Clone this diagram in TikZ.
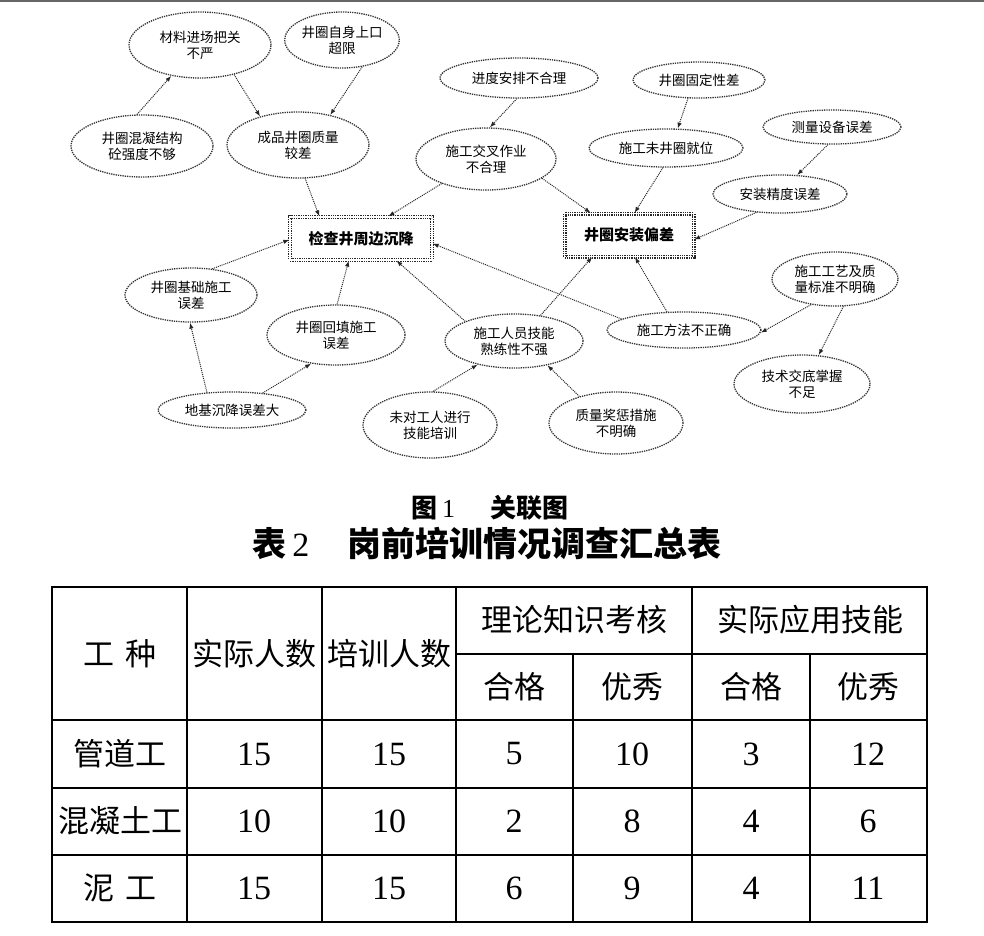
\documentclass[tikz,border=0pt]{standalone}
\usepackage{fontspec}
\setmainfont{Liberation Serif}
\newfontfamily\cjk{Noto Sans CJK SC}
\usetikzlibrary{shapes.geometric,arrows.meta}

\tikzset{
  cause/.style 2 args={ellipse, draw=black!80, densely dotted, line width=1.3pt,
    minimum width=#1pt, minimum height=#2pt, inner sep=0pt, align=center,
    text=black, font=\cjk\fontsize{13.5}{16}\selectfont},
  effect/.style 2 args={rectangle, draw=black!85, densely dotted, line width=1.3pt,
    double, double distance=1.4pt, minimum width=#1pt, minimum height=#2pt,
    inner sep=0pt, font=\cjk\bfseries\fontsize{15}{18}\selectfont},
  link/.style={densely dotted, line width=1pt, draw=black!85,
    -{Latex[length=6pt,width=4.5pt]}},
  head/.style={font=\cjk\fontsize{31}{34}\selectfont},
  num/.style={font=\fontsize{34}{36}\selectfont},
}

\begin{document}
\begin{tikzpicture}[x=1pt, y=-1pt]
    \useasboundingbox (0,0) rectangle (984,935);
    % scan edge
    \draw[black!60, line width=2.5pt] (0,1) -- (984,1);

    % causes, top row
    \node[cause={142}{66}] (mat)   at (200,45)  {材料进场把关\\不严};
    \node[cause={94}{56}]  (top)   at (342,40)  {井圈自身上口\\超限};
    \node[cause={142}{62}] (conc)  at (142,146) {井圈混凝结构\\砼强度不够};
    \node[cause={142}{66}] (prod)  at (298,145) {成品井圈质量\\较差};
    \node[cause={158}{40}] (sched) at (519,78)  {进度安排不合理};
    \node[cause={140}{62}] (cross) at (486,159) {施工交叉作业\\不合理};
    \node[cause={132}{36}] (fix)   at (699,80)  {井圈固定性差};
    \node[cause={154}{38}] (pos)   at (666,148) {施工未井圈就位};
    \node[cause={138}{34}] (meas)  at (832,127) {测量设备误差};
    \node[cause={134}{38}] (inst)  at (780,194) {安装精度误差};

    % the two problems
    \node[effect={142}{43}] (settle) at (361,238.5) {检查井周边沉降};
    \node[effect={129}{43}] (offset) at (629,235)   {井圈安装偏差};

    % causes, bottom row
    \node[cause={132}{54}] (base)   at (191,295) {井圈基础施工\\误差};
    \node[cause={138}{60}] (fill)   at (336,335) {井圈回填施工\\误差};
    \node[cause={148}{36}] (ground) at (232,410) {地基沉降误差大};
    \node[cause={138}{54}] (skill)  at (514,341) {施工人员技能\\熟练性不强};
    \node[cause={134}{66}] (train)  at (430,425) {未对工人进行\\技能培训};
    \node[cause={134}{62}] (reward) at (616,423) {质量奖惩措施\\不明确};
    \node[cause={154}{36}] (method) at (684,330) {施工方法不正确};
    \node[cause={126}{54}] (std)    at (835,279) {施工工艺及质\\量标准不明确};
    \node[cause={136}{58}] (brief)  at (802,384) {技术交底掌握\\不足};

    % links
    \draw[link] (conc.99) -- (mat.227);
    \draw[link] (mat.319) -- (prod.143);
    \draw[link] (top.307) -- (prod.43);
    \draw[link] (prod.282) -- (settle.152);
    \draw[link] (sched.264) -- (cross.83);
    \draw[link] (cross.209) -- (settle.39);
    \draw[link] (cross.341) -- (offset.150);
    \draw[link] (fix.239) -- (pos.59);
    \draw[link] (pos.261) -- (offset.76);
    \draw[link] (meas.257) -- (inst.48);
    \draw[link] (inst.218) -- (offset.356);
    \draw[link] (base.51) -- (settle.181);
    \draw[link] (fill.88) -- (settle.241);
    \draw[link] (skill.158) -- (settle.328);
    \draw[link] (method.170) -- (settle.356);
    \draw[link] (ground.145) -- (base.268);
    \draw[link] (ground.29) -- (fill.229);
    \draw[link] (train.85) -- (skill.213);
    \draw[link] (reward.144) -- (skill.324);
    \draw[link] (skill.44) -- (offset.211);
    \draw[link] (method.133) -- (offset.285);
    \draw[link] (std.227) -- (method.358);
    \draw[link] (std.287) -- (brief.60);

    % captions
    \node[font=\cjk\bfseries\fontsize{26}{30}\selectfont] (figcap) at (490,508)
        {图\,{\rmfamily\mdseries 1}\hspace{35pt}关联图};
    \node[font=\cjk\bfseries\fontsize{34}{38}\selectfont] (tabcap) at (487,544)
        {表\,{\rmfamily\mdseries 2}\hspace{38pt}岗前培训情况调查汇总表};

    % table grid
    \draw[line width=1.4pt] (456,654) -- (927,654);
    \foreach \y in {720,788,855}
        \draw[line width=1.4pt] (52,\y) -- (927,\y);
    \foreach \x in {187,322,456,692}
        \draw[line width=1.4pt] (\x,587) -- (\x,922);
    \foreach \x in {573,810}
        \draw[line width=1.4pt] (\x,654) -- (\x,922);
    \draw[line width=2.4pt] (52,587) rectangle (927,922);

    % table head
    \node[head] (hkind)  at (120,654) {工\hspace{12pt}种};
    \node[head] (hreal)  at (254,654) {实际人数};
    \node[head] (htrain) at (389,654) {培训人数};
    \node[head] (htheo)  at (574,620) {理论知识考核};
    \node[head] (hprac)  at (810,620) {实际应用技能};
    \node[head] (hpa)    at (514,687) {合格};
    \node[head] (hpb)    at (632,687) {优秀};
    \node[head] (hpc)    at (751,687) {合格};
    \node[head] (hpd)    at (868,687) {优秀};

    % table rows
    \foreach \nm/\a/\b/\c/\d/\e/\f [count=\i] in
        {管道工/15/15/5/10/3/12, 混凝土工/10/10/2/8/4/6, 泥\hspace{12pt}工/15/15/6/9/4/11}
    {
        \pgfmathsetmacro{\yy}{754+(\i-1)*67}
        \node[head] (kind\i) at (120,\yy) {\nm};
        \node[num] (ra\i) at (254,\yy) {\a};
        \node[num] (rb\i) at (389,\yy) {\b};
        \node[num] (rc\i) at (514,\yy) {\c};
        \node[num] (rd\i) at (632,\yy) {\d};
        \node[num] (re\i) at (751,\yy) {\e};
        \node[num] (rf\i) at (868,\yy) {\f};
    }
\end{tikzpicture}
\end{document}
